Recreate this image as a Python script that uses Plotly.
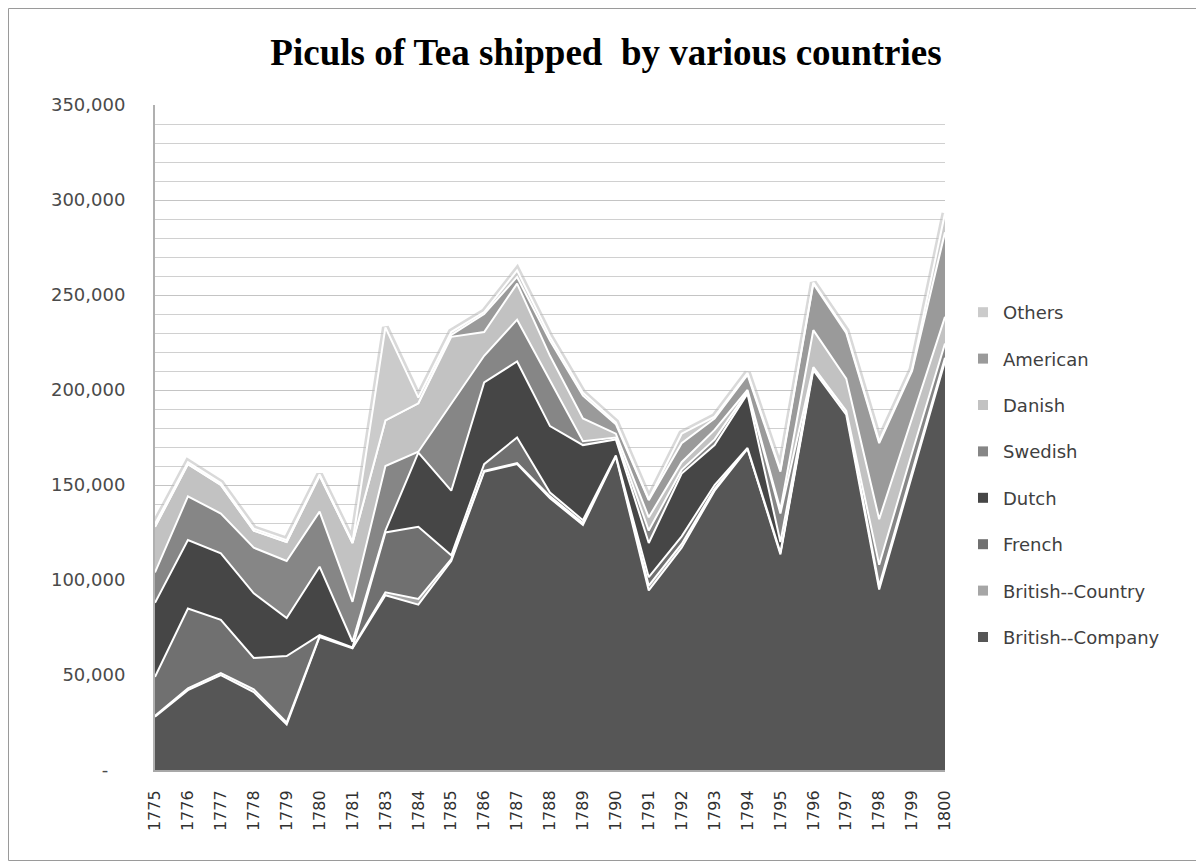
import plotly.graph_objects as go

years = ["1775", "1776", "1777", "1778", "1779", "1780", "1781", "1783", "1784",
         "1785", "1786", "1787", "1788", "1789", "1790", "1791", "1792", "1793",
         "1794", "1795", "1796", "1797", "1798", "1799", "1800"]

british_company = [28000, 42000, 50000, 41000, 24000, 70000, 64000, 92000, 87000,
                   110000, 157000, 161000, 143000, 129000, 165000, 94500, 117000, 147000,
                   169000, 113500, 210500, 187000, 95000, 155000, 215000]
british_country = [500, 1000, 1000, 1500, 1000, 500, 500, 1500, 3000,
                   1000, 500, 500, 1000, 1000, 500, 2500, 2000, 1000,
                   500, 1000, 1500, 2000, 2000, 2000, 2000]
french = [20500, 42000, 28000, 16500, 35000, 500, 0, 31500, 38000,
          2000, 3500, 13500, 2000, 1500, 0, 4500, 4000, 2000,
          0, 0, 0, 0, 0, 0, 0]
dutch = [39000, 36000, 35000, 34000, 20000, 36000, 3000, 1000, 39000,
         34000, 43000, 40000, 35000, 39500, 8500, 18000, 33000, 21000,
         28500, 5500, 0, 0, 0, 0, 0]
swedish = [16000, 23000, 21000, 24000, 30000, 29000, 21000, 34000, 500,
           46000, 14000, 22000, 24000, 2000, 1000, 6500, 2000, 3000,
           1000, 15000, 0, 0, 11000, 10000, 7500]
danish = [24000, 17000, 15000, 9000, 10000, 19000, 31000, 24000, 25500,
          35000, 12500, 19000, 13000, 12000, 2000, 7000, 4000, 5000,
          1000, 2000, 19500, 17000, 24000, 18000, 14000]
american = [0, 0, 0, 0, 0, 0, 0, 0, 0,
            1000, 9500, 3500, 8000, 12000, 5000, 9000, 10000, 6000,
            8000, 20000, 24500, 24000, 40000, 25000, 44500]
others = [1500, 1000, 1000, 1000, 1000, 500, 500, 49000, 3000,
          1500, 1000, 3500, 2000, 1500, 1000, 500, 5000, 1000,
          1000, 1000, 500, 1000, 1000, 1000, 10000]

series_names = ["British--Company", "British--Country", "French", "Dutch",
                "Swedish", "Danish", "American", "Others"]
series_values = [british_company, british_country, french, dutch,
                 swedish, danish, american, others]
series_colors = ["#565656", "#a6a6a6", "#707070", "#464646",
                 "#868686", "#c2c2c2", "#9a9a9a", "#cbcbcb"]

y_tickvals = [0, 50000, 100000, 150000, 200000, 250000, 300000, 350000]
y_ticktext = ["-\u00a0\u00a0\u00a0", "50,000", "100,000", "150,000", "200,000",
              "250,000", "300,000", "350,000"]

totals = [sum(v) for v in zip(*series_values)]

fig = go.Figure()

# soft halo around the outline of the stack
fig.add_trace(go.Scatter(x=years, y=totals, mode="lines",
                         line=dict(color="rgba(185,185,185,0.55)", width=7),
                         showlegend=False, hoverinfo="skip"))

for name, vals, col in zip(series_names, series_values, series_colors):
    fig.add_trace(go.Scatter(
        x=years, y=vals, name=name, mode="lines",
        stackgroup="tea", fillcolor=col,
        line=dict(color="white", width=2),
        showlegend=False,
    ))

# legend entries with square swatches (top-to-bottom: Others ... British--Company)
for name, col in zip(series_names[::-1], series_colors[::-1]):
    fig.add_trace(go.Scatter(
        x=[None], y=[None], name=name, mode="markers",
        marker=dict(symbol="square", size=10, color=col),
        legendgroup=name, showlegend=True,
    ))

W, H = 1190, 853
L, T = 147, 97
pw, ph = 790, 665
R = W - L - pw
B = H - T - ph


def px_to_paper_x(px):
    return (px - L) / pw


def px_to_paper_y(py):
    return (T + ph - py) / ph


fig.update_layout(
    width=W, height=H,
    margin=dict(l=L, r=R, t=T, b=B),
    paper_bgcolor="white", plot_bgcolor="white",
    title=dict(text="<b>Piculs of Tea shipped  by various countries</b>",
               x=598 / W, xanchor="center", y=1 - 44 / H, yanchor="middle",
               font=dict(family="Liberation Serif", size=37, color="black")),
    font=dict(family="DejaVu Sans", color="#404040"),
    legend=dict(x=px_to_paper_x(955), xanchor="left",
                y=px_to_paper_y(286), yanchor="top",
                traceorder="grouped", tracegroupgap=20,
                font=dict(family="DejaVu Sans", size=18, color="#404040"),
                bgcolor="rgba(0,0,0,0)"),
    showlegend=True,
    shapes=[dict(type="rect", xref="paper", yref="paper",
                 x0=px_to_paper_x(0.5), x1=px_to_paper_x(W - 0.5),
                 y0=px_to_paper_y(H - 0.5), y1=px_to_paper_y(0.5),
                 line=dict(color="#9a9a9a", width=1), fillcolor="rgba(0,0,0,0)",
                 layer="below")],
)

fig.update_xaxes(type="category", range=[0, len(years) - 1],
                 tickangle=-90, tickfont=dict(size=16, color="#303030"),
                 showgrid=False, showline=True, linecolor="#a8a8a8", linewidth=2,
                 ticks="outside", ticklen=12, tickcolor="rgba(0,0,0,0)")

fig.update_yaxes(range=[0, 350000], tickvals=y_tickvals, ticktext=y_ticktext,
                 tickfont=dict(size=18, color="#4a4a4a"),
                 showgrid=True, gridcolor="#c4c4c4", gridwidth=1,
                 minor=dict(dtick=10000, showgrid=True, gridcolor="#d0d0d0", gridwidth=1),
                 showline=True, linecolor="#b0b0b0", linewidth=2,
                 ticks="outside", ticklen=24, tickcolor="rgba(0,0,0,0)",
                 zeroline=False)

fig.write_html("out.html")
